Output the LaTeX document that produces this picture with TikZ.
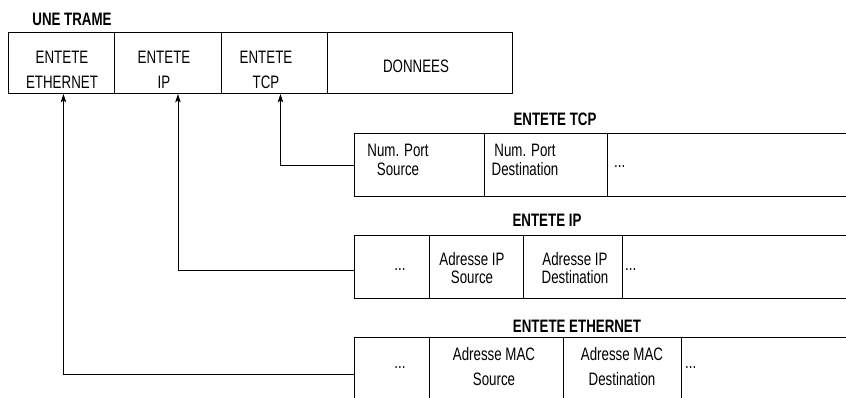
\documentclass[tikz,border=0pt]{standalone}
\usepackage{fontspec}
\setmainfont{Liberation Sans}[FakeStretch=0.74]
\usetikzlibrary{arrows.meta}

\begin{document}
\begin{tikzpicture}[x=1pt, y=-1pt,
    every node/.style={font=\fontsize{18}{25}\selectfont},
    cell/.style={draw, line width=0.9pt, anchor=north west, inner sep=0pt},
    txt/.style={align=center, inner sep=0pt},
    close/.style={txt, font=\fontsize{18}{18.5}\selectfont},
    title/.style={inner sep=0pt, font=\fontsize{18}{20}\selectfont\bfseries},
    link/.style={-{Stealth[length=8.5pt, width=5.5pt, inset=2pt]}, line width=0.8pt}]
  \useasboundingbox (0,0) rectangle (846,397);

  % the frame
  \node[title] (TRAME) at (72,19) {UNE TRAME};
  \node[cell, minimum width=106pt, minimum height=61pt] (ETHF) at (8,32) {};
  \node[cell, minimum width=107pt, minimum height=61pt] (IPF) at (114,32) {};
  \node[cell, minimum width=106pt, minimum height=61pt] (TCPF) at (221,32) {};
  \node[cell, minimum width=185pt, minimum height=61pt] (DATA) at (327,32) {};
  \node[txt] (ethT) at (62,70) {ENTETE\\ETHERNET};
  \node[txt] (ipT) at (164,70) {ENTETE\\IP};
  \node[txt] (tcpT) at (266,70) {ENTETE\\TCP};
  \node[txt] (dataT) at (416,66) {DONNEES};

  % TCP header
  \node[title] (TCPH) at (555,119) {ENTETE TCP};
  \node[cell, minimum width=130pt, minimum height=63pt] (TCPA) at (354,133) {};
  \node[cell, minimum width=123pt, minimum height=63pt] (TCPB) at (484,133) {};
  \node[cell, minimum width=293pt, minimum height=63pt] (TCPC) at (607,133) {};
  \node[close] (tcpsrc) at (398,160) {Num. Port\\Source};
  \node[close] (tcpdst) at (525,160) {Num. Port\\Destination};
  \node[txt, anchor=base west] (tcpmore) at (614,167) {...};

  % IP header
  \node[title] (IPH) at (547,220) {ENTETE IP};
  \node[cell, minimum width=75pt, minimum height=63pt] (IPA) at (354,235) {};
  \node[cell, minimum width=94pt, minimum height=63pt] (IPB) at (429,235) {};
  \node[cell, minimum width=99pt, minimum height=63pt] (IPC) at (523,235) {};
  \node[cell, minimum width=278pt, minimum height=63pt] (IPD) at (622,235) {};
  \node[txt, anchor=base] (ipfirst) at (400,270) {...};
  \node[close] (ipsrc) at (472,268) {Adresse IP\\Source};
  \node[close] (ipdst) at (575,268) {Adresse IP\\Destination};
  \node[txt, anchor=base west] (ipmore) at (625,270) {...};

  % Ethernet header, its lower edge falls below the page
  \node[title] (ETHH) at (577,326) {ENTETE ETHERNET};
  \node[cell, minimum width=75pt, minimum height=73pt] (EA) at (354,337) {};
  \node[cell, minimum width=134pt, minimum height=73pt] (EB) at (429,337) {};
  \node[cell, minimum width=118pt, minimum height=73pt] (EC) at (563,337) {};
  \node[cell, minimum width=219pt, minimum height=73pt] (ED) at (681,337) {};
  \node[txt, anchor=base] (ethfirst) at (400,368) {...};
  \node[txt] (ethsrc) at (494,367) {Adresse MAC\\Source};
  \node[txt] (ethdst) at (622,367) {Adresse MAC\\Destination};
  \node[txt, anchor=base west] (ethmore) at (685,368) {...};

  \draw[link] (TCPA.west) -| ([xshift=6pt]TCPF.south);
  \draw[link] ([yshift=-3.5pt]IPA.west) -| ([xshift=10pt]IPF.south);
  \draw[link] (EA.west) -| ([xshift=2pt]ETHF.south);
\end{tikzpicture}
\end{document}
